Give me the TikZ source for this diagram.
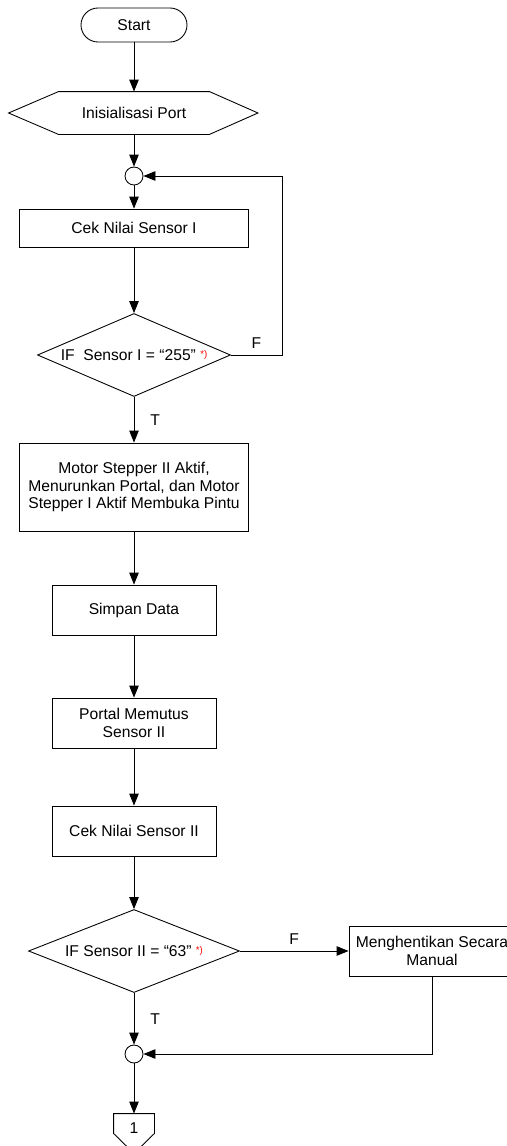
\documentclass[tikz,border=0pt]{standalone}
\usepackage{fontspec}
\setmainfont{Liberation Sans}
\usetikzlibrary{positioning,arrows.meta,shapes.geometric}

\newcommand{\starnote}{\textcolor{red}{\raisebox{1.8pt}{\fontsize{5.5}{6}\selectfont *)}}}

\begin{document}
\begin{tikzpicture}[node distance=2.4cm, line width=0.5pt]
    \tikzset{
      terminal/.style = {rectangle, rounded corners=0.34cm, minimum width=2.12cm, minimum height=0.68cm, align=center, draw=black, font=\fontsize{8.9}{10}\selectfont},
      prep/.style = {rectangle, minimum width=3cm, minimum height=0.84cm, align=center, font=\fontsize{8.9}{10}\selectfont},
      process/.style = {rectangle, minimum width=3.28cm, minimum height=1cm, inner sep=2pt, align=center, draw=black, font=\fontsize{8.9}{10}\selectfont},
      decision/.style = {diamond, aspect=2.5, inner sep=0pt, minimum height=1.66cm, align=center, draw=black, font=\fontsize{8.9}{10}\selectfont},
      junction/.style = {circle, minimum size=0.36cm, inner sep=0pt, draw=black},
      flag/.style = {font=\fontsize{8.9}{10}\selectfont},
      arrow/.style = {-{Triangle[length=0.24cm, width=0.19cm]}}
    }
    \useasboundingbox (0,0) rectangle (10.14,-22.92);

    \node (start) [terminal] at (2.68,-0.5) {Start};
    \node (init) [prep, below of=start, yshift=0.64cm] {Inisialisasi Port};
    \draw (init.north west) -- (init.north east) -- ([xshift=0.97cm]init.east) -- (init.south east)
          -- (init.south west) -- ([xshift=-1cm]init.west) -- cycle;
    \node (j1) [junction, below of=init, yshift=1.14cm] {};
    \node (cek1) [process, below of=j1, yshift=1.36cm, minimum width=4.58cm, minimum height=0.76cm] {Cek Nilai Sensor I};
    \node (d1) [decision, below of=cek1, yshift=-0.14cm, minimum width=3.86cm] {IF\ \ Sensor I = ``255'' \starnote};
    \node (motor) [process, below of=d1, yshift=-0.24cm, minimum width=4.58cm, minimum height=1.76cm] {Motor Stepper II Aktif,\\Menurunkan Portal, dan Motor\\Stepper I Aktif Membuka Pintu};
    \node (simpan) [process, below of=motor, yshift=-0.06cm] {Simpan Data};
    \node (portal) [process, below of=simpan, yshift=0.14cm] {Portal Memutus\\Sensor II};
    \node (cek2) [process, below of=portal, yshift=0.24cm] {Cek Nilai Sensor II};
    \node (d2) [decision, below of=cek2, minimum width=4.22cm] {IF Sensor II = ``63'' \starnote};
    \node (manual) [process, right of=d2, xshift=3.56cm, minimum width=3.32cm] {Menghentikan Secara\\Manual};
    \node (j2) [junction, below of=d2, yshift=0.34cm] {};
    \node (conn) [prep, below of=j2, yshift=0.91cm, minimum width=0.8cm, minimum height=0.58cm] {1};
    \draw (conn.north west) -- (conn.north east) -- ([yshift=0.2cm]conn.south east) -- ([yshift=-0.2cm]conn.south)
          -- ([yshift=0.2cm]conn.south west) -- cycle;

    \draw [arrow] (start) -- (init);
    \draw [arrow] (init) -- (j1);
    \draw [arrow] (j1) -- (cek1);
    \draw [arrow] (cek1) -- (d1);
    \draw [arrow] (d1.east) -- node[flag, above] {F} ([xshift=1.02cm]d1.east) |- (j1.east);
    \draw [arrow] (d1) -- node[flag, right=0.2cm] {T} (motor);
    \draw [arrow] (motor) -- (simpan);
    \draw [arrow] (simpan) -- (portal);
    \draw [arrow] (portal) -- (cek2);
    \draw [arrow] (cek2) -- (d2);
    \draw [arrow] (d2) -- node[flag, above] {F} (manual);
    \draw [arrow] (d2) -- node[flag, right=0.2cm] {T} (j2);
    \draw [arrow] (manual.south) |- (j2.east);
    \draw [arrow] (j2) -- (conn);
\end{tikzpicture}
\end{document}
